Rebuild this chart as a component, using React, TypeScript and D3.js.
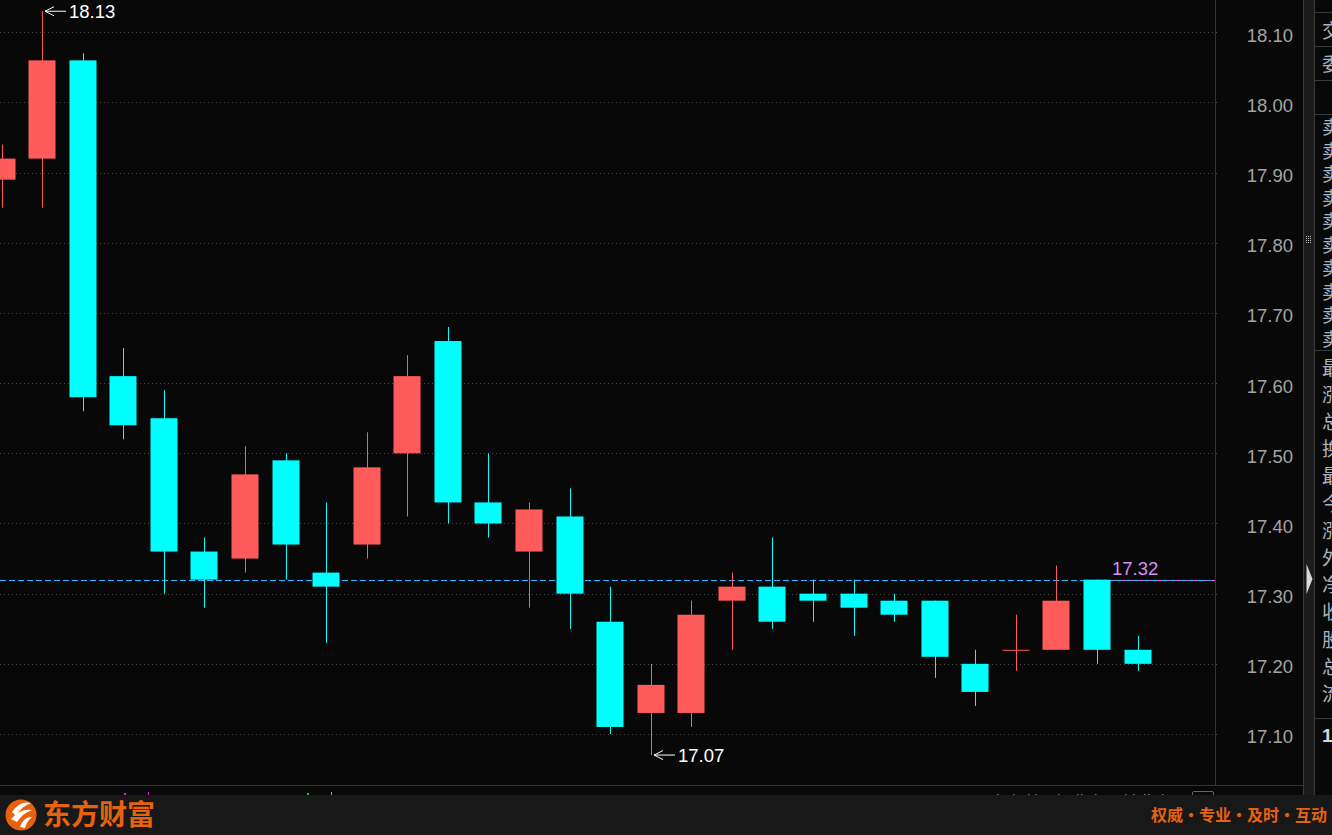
import React from "react";
import * as d3 from "d3";

const opens = [17.89, 17.92, 18.06, 17.61, 17.55, 17.36, 17.35, 17.49, 17.33, 17.37, 17.50, 17.66, 17.43, 17.36, 17.41, 17.26, 17.13, 17.13, 17.29, 17.31, 17.30, 17.30, 17.29, 17.29, 17.20, 17.22, 17.22, 17.32, 17.22];
const closes = [17.92, 18.06, 17.58, 17.54, 17.36, 17.32, 17.47, 17.37, 17.31, 17.48, 17.61, 17.43, 17.40, 17.42, 17.30, 17.11, 17.17, 17.27, 17.31, 17.26, 17.29, 17.28, 17.27, 17.21, 17.16, 17.22, 17.29, 17.22, 17.20];
const highs = [17.94, 18.13, 18.07, 17.65, 17.59, 17.38, 17.51, 17.50, 17.43, 17.53, 17.64, 17.68, 17.50, 17.43, 17.45, 17.31, 17.20, 17.29, 17.33, 17.38, 17.32, 17.32, 17.30, 17.29, 17.22, 17.27, 17.34, 17.32, 17.24];
const lows = [17.85, 17.85, 17.56, 17.52, 17.30, 17.28, 17.33, 17.32, 17.23, 17.35, 17.41, 17.40, 17.38, 17.28, 17.25, 17.10, 17.07, 17.11, 17.22, 17.25, 17.26, 17.24, 17.26, 17.18, 17.14, 17.19, 17.22, 17.20, 17.19];
const yTicks = [18.1, 18.0, 17.9, 17.8, 17.7, 17.6, 17.5, 17.4, 17.3, 17.2, 17.1];
const lastPrice = 17.32;
const maxLabel = "18.13";
const minLabel = "17.07";
const panelTop = ["交", "委"];
const panelSell = ["卖", "卖", "卖", "卖", "卖", "卖", "卖", "卖", "卖", "卖"];
const panelInfo = ["最", "涨", "总", "换", "最", "今", "涨", "外", "净", "收", "股", "总", "流"];
const brandName = "东方财富";
const slogan = "权威·专业·及时·互动";

const W = 1332;
const H = 835;
const RED = "#ff5b5b";
const CYAN = "#00ffff";
const BG = "#080808";

export default function App() {
  const y = d3.scaleLinear().domain([17.1, 18.1]).range([734, 32.3]);
  const x = d3.scaleLinear().domain([0, opens.length - 1]).range([1.5, 1137.5]);
  const bodyW = 27;
  const data = opens.map((o, i) => ({ o, c: closes[i], h: highs[i], l: lows[i], i }));
  const maxIdx = d3.maxIndex(highs);
  const minIdx = d3.minIndex(lows);
  const lastY = Math.round(y(lastPrice)) + 0.5;
  const lastIdx = opens.length - 2;
  const fmt = d3.format(".2f");

  return (
    <svg width={W} height={H} style={{ position: "absolute", left: 0, top: 0, display: "block" }}
      fontFamily="'Liberation Sans', Arial, sans-serif">
      <defs>
        <clipPath id="plot"><rect x={0} y={0} width={1215} height={785} /></clipPath>
        <clipPath id="panel"><rect x={1315} y={0} width={17} height={795} /></clipPath>
      </defs>
      <rect x={0} y={0} width={W} height={H} fill={BG} />
      {/* grid */}
      {yTicks.map((t) => (
        <line key={"g" + t} x1={0} x2={1220} y1={Math.round(y(t)) + 0.5} y2={Math.round(y(t)) + 0.5}
          stroke="#4a4a4a" strokeWidth={1} strokeDasharray="1,3" />
      ))}
      {/* last price line */}
      <line x1={x(lastIdx) - bodyW / 2} x2={1215} y1={lastY} y2={lastY} stroke="#ff5fd0" strokeWidth={1} />
      <line x1={0} x2={1215} y1={lastY} y2={lastY} stroke="#22b8ff" strokeWidth={1} strokeDasharray="6,3" />
      {/* candles */}
      <g clipPath="url(#plot)">
        {data.map((d) => {
          const up = d.c >= d.o;
          const col = up ? RED : CYAN;
          const cx = Math.round(x(d.i)) + 0.5;
          const top = y(Math.max(d.o, d.c));
          const bot = y(Math.min(d.o, d.c));
          const bh = Math.max(1, bot - top);
          return (
            <g key={d.i}>
              <line x1={cx} x2={cx} y1={y(d.h)} y2={y(d.l)} stroke={col} strokeWidth={1} />
              <rect x={cx - 0.5 - bodyW / 2} y={top} width={bodyW} height={bh} fill={col} />
            </g>
          );
        })}
      </g>
      {/* max / min annotations */}
      {[{ idx: maxIdx, v: highs[maxIdx], t: maxLabel }, { idx: minIdx, v: lows[minIdx], t: minLabel }].map((a, k) => {
        const ax = Math.round(x(a.idx)) + 3;
        const ay = y(a.v);
        return (
          <g key={"a" + k}>
            <line x1={ax} x2={ax + 21} y1={ay} y2={ay} stroke="#ffffff" strokeWidth={1} />
            <polyline points={`${ax + 9},${ay - 4.5} ${ax},${ay} ${ax + 9},${ay + 4.5}`} fill="none" stroke="#ffffff" strokeWidth={1} />
            <text x={ax + 24} y={ay} dy="0.35em" fill="#ffffff" fontSize={18.5}>{a.t}</text>
          </g>
        );
      })}
      {/* last price label */}
      <text x={1112} y={lastY - 12} dy="0.35em" fill="#d890f5" fontSize={18.5}>{fmt(lastPrice)}</text>
      {/* axis area */}
      <line x1={1215.5} x2={1215.5} y1={0} y2={785} stroke="#353535" />
      {yTicks.map((t) => (
        <text key={"t" + t} x={1293} y={y(t) + 3} dy="0.35em" textAnchor="end" fill="#a3a3a3" fontSize={18.5}>{fmt(t)}</text>
      ))}
      <line x1={0} x2={1303} y1={785.5} y2={785.5} stroke="#333333" />
      {/* small marks at the bottom */}
      <rect x={124} y={793} width={2} height={2} fill="#e020e0" />
      <rect x={148} y={792} width={1} height={3} fill="#e020e0" />
      <rect x={307} y={793} width={2} height={2} fill="#20c020" />
      <rect x={331} y={792} width={1} height={3} fill="#20ff20" />
      {[997, 1013, 1028, 1035, 1058, 1077, 1081, 1095, 1125, 1133, 1144, 1148, 1162].map((px, k) => (
        <rect key={"m" + k} x={px} y={794} width={1.5} height={1} fill={k % 3 === 0 ? "#6a7a9a" : "#8a6a5a"} />
      ))}
      <path d="M1192.5,795 V793 Q1192.5,791.5 1194,791.5 H1212 Q1213.5,791.5 1213.5,793 V795" fill="none" stroke="#666" />
      {/* splitter bar */}
      <rect x={1303} y={0} width={11} height={795} fill="#1c1c1c" />
      <line x1={1303.5} x2={1303.5} y1={0} y2={795} stroke="#3a3a3a" />
      <line x1={1314.5} x2={1314.5} y1={0} y2={795} stroke="#3a3a3a" />
      {[0, 1, 2].map((cI) => [0, 1, 2, 3].map((r) => (
        <rect key={`dot${cI}-${r}`} x={1306 + cI * 2} y={236 + r * 2} width={1} height={1} fill="#bbbbbb" />
      )))}
      <polygon points="1306.5,564 1312.5,579 1306.5,594" fill="#d8d8d8" />
      {/* right panel */}
      <g clipPath="url(#panel)">
        {[12, 46, 80, 114, 350, 718].map((ly) => (
          <line key={"p" + ly} x1={1315} x2={1332} y1={ly + 0.5} y2={ly + 0.5} stroke="#3a3a3a" />
        ))}
        {panelTop.map((ch, k) => (
          <text key={"pt" + k} x={1322} y={31 + k * 33} dy="0.35em" fill="#a9b2bd" fontSize={19} fontFamily="'Noto Sans CJK SC'">{ch}</text>
        ))}
        {panelSell.map((ch, k) => (
          <text key={"ps" + k} x={1322} y={128 + k * 23.5} dy="0.35em" fill="#a9b2bd" fontSize={18} fontFamily="'Noto Sans CJK SC'">{ch}</text>
        ))}
        {panelInfo.map((ch, k) => (
          <text key={"pi" + k} x={1322} y={368 + k * 27.2} dy="0.35em" fill="#a9b2bd" fontSize={19} fontFamily="'Noto Sans CJK SC'">{ch}</text>
        ))}
        <text x={1322} y={735} dy="0.35em" fill="#d8d8d8" fontSize={19} fontWeight="bold">1</text>
      </g>
      {/* footer */}
      <rect x={0} y={795} width={W} height={40} fill="#181818" />
      <circle cx={21} cy={815} r={15.5} fill="#e8620e" />
      <path d="M12,812 Q20,800 31,803 Q22,806 16,816 Z" fill="#ffffff" />
      <path d="M11,819 Q21,808 32,810 Q23,813 17,822 Z" fill="#ffffff" />
      <path d="M20,827 Q24,816 32,817 Q27,821 25,828 Z" fill="#ffffff" />
      <text x={43} y={815} dy="0.35em" fill="#e8620e" fontSize={28} fontWeight="bold" fontFamily="'Noto Sans CJK SC'">{brandName}</text>
      <text x={1327} y={815} dy="0.35em" textAnchor="end" fill="#e8620e" fontSize={16} fontWeight="bold" fontFamily="'Noto Sans CJK SC'">{slogan}</text>
    </svg>
  );
}
